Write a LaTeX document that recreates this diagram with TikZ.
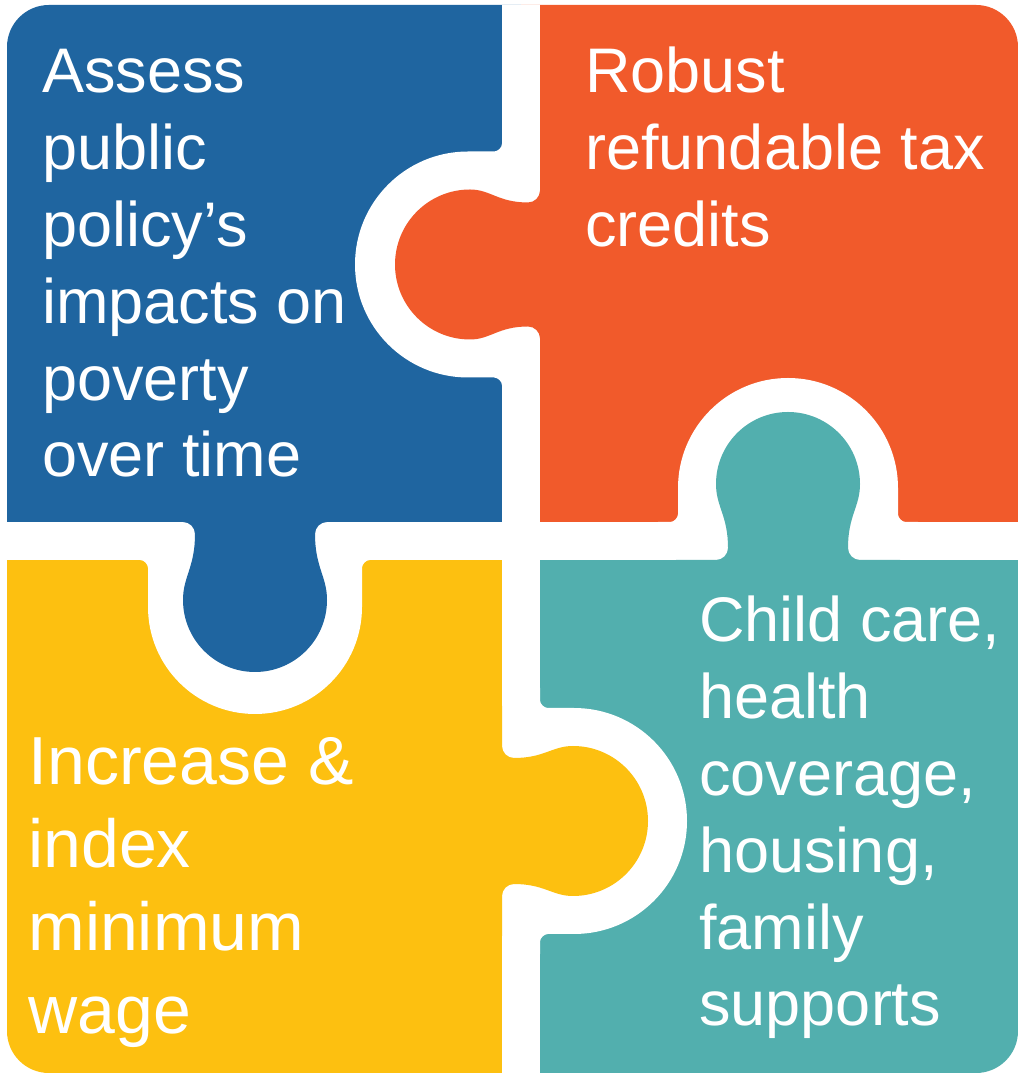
\documentclass[tikz,border=0pt]{standalone}
\usepackage{fontspec}
\setmainfont{Liberation Sans}

\definecolor{pzblue}{RGB}{31,101,160}
\definecolor{pzorange}{RGB}{241,90,43}
\definecolor{pzyellow}{RGB}{253,192,16}
\definecolor{pzteal}{RGB}{82,175,174}

% Local frame for one joint: u runs along the cut, v points into the
% piece that receives the head; the white gap is the strip -19 < v < 19.

% Hollow cut into the receiving piece (filled white).
% #1 = radius of the hollow, #2 = height of its centre above the cut
\newcommand\socketshape[2]{%
  ({-#1-20},0) -- ({-#1-20},19) -- ({-#1-8},19)
  .. controls ({-#1-3.6},19) and (-#1,23.4) .. (-#1,27)
  -- (-#1,#2) arc[start angle=180, end angle=0, radius=#1]
  -- (#1,27) .. controls (#1,23.4) and ({#1+3.6},19) .. ({#1+8},19)
  -- ({#1+20},19) -- ({#1+20},0) -- cycle}

% Head of the giving piece (filled in that piece's colour).
% #1 = half width of the neck, #2 = radius of the head,
% #3 = height of the head's centre above the cut
\newcommand\knobshape[3]{%
  ({-#2-40},-30) -- ({-#2-40},-19) -- ({-#1-12},-19)
  .. controls ({-#1-5.4},-19) and (-#1,-13.6) .. (-#1,-7)
  .. controls (-#1,{#3*0.45}) and (-#2,{#3*0.6}) .. (-#2,#3)
  arc[start angle=180, end angle=0, radius=#2]
  .. controls (#2,{#3*0.6}) and (#1,{#3*0.45}) .. (#1,-7)
  .. controls (#1,-13.6) and ({#1+5.4},-19) .. ({#1+12},-19)
  -- ({#2+40},-19) -- ({#2+40},-30) -- cycle}

\begin{document}
\begin{tikzpicture}[x=0.5pt,y=0.5pt,
  piecetext/.style={text=white, inner sep=0pt, anchor=base west},
  normaltext/.style={piecetext, font=\fontsize{31.5}{38.4}\selectfont},
  bigtext/.style={piecetext, font=\fontsize{34}{41.35}\selectfont}]

\useasboundingbox (0,0) rectangle (1019,1076);
\fill[white] (0,0) rectangle (1019,1076);

\begin{scope}
  \clip[rounded corners=21pt] (7,3) rectangle (1018,1071);

  % the four quarters
  \fill[pzblue]   (0,535)   rectangle (521,1076);
  \fill[pzorange] (521,535) rectangle (1019,1076);
  \fill[pzyellow] (0,0)     rectangle (521,535);
  \fill[pzteal]   (521,0)   rectangle (1019,535);

  % straight white gaps between the quarters
  \fill[white] (502,-10) rectangle (540,1090);
  \fill[white] (-10,516) rectangle (1030,554);

  % upper vertical cut: orange head reaching into the blue piece
  \begin{scope}[shift={(521,811.5)}, rotate=90]
    \fill[white] \socketshape{113}{53};
    \fill[pzorange] \knobshape{62}{75}{51};
  \end{scope}

  % left horizontal cut: blue head reaching into the yellow piece
  \begin{scope}[shift={(255,535)}, rotate=180]
    \fill[white] \socketshape{107}{66};
    \fill[pzblue] \knobshape{60}{72}{59};
  \end{scope}

  % right horizontal cut: teal head reaching into the orange piece
  \begin{scope}[shift={(788,535)}]
    \fill[white] \socketshape{110}{53};
    \fill[pzteal] \knobshape{60}{72}{57};
  \end{scope}

  % lower vertical cut: yellow head reaching into the teal piece
  \begin{scope}[shift={(521,255)}, rotate=-90]
    \fill[white] \socketshape{113}{53};
    \fill[pzyellow] \knobshape{63}{75}{52};
  \end{scope}
\end{scope}

% labels
\node[normaltext] (assess) at (42,983)
  {\begin{tabular}[t]{@{}l@{}}Assess\\public\\policy’s\\impacts on\\poverty\\over time\end{tabular}};
\node[normaltext] (credits) at (585,983)
  {\begin{tabular}[t]{@{}l@{}}Robust\\refundable tax\\credits\end{tabular}};
\node[bigtext] (wage) at (28,291)
  {\begin{tabular}[t]{@{}l@{}}Increase \&\\index\\minimum\\wage\end{tabular}};
\node[normaltext] (supports) at (699,434)
  {\begin{tabular}[t]{@{}l@{}}Child care,\\health\\coverage,\\housing,\\family\\supports\end{tabular}};
\end{tikzpicture}
\end{document}
